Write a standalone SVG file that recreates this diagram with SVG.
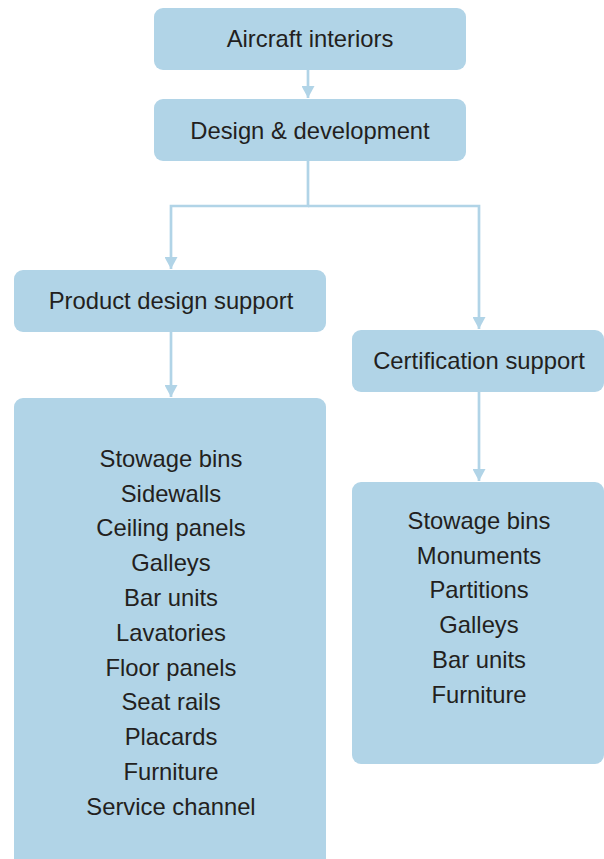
<svg xmlns="http://www.w3.org/2000/svg" width="604" height="859" viewBox="0 0 604 859">
<defs>
<style>
.box{fill:#b1d4e7;}
.t{font-family:"Liberation Sans",Arial,sans-serif;font-size:23.8px;fill:#231f20;text-anchor:middle;}
.c{stroke:#b1d4e7;stroke-width:2.7;fill:none;}
</style>
<marker id="ah" viewBox="0 0 12 13" refX="12" refY="6.5" markerWidth="12" markerHeight="13" markerUnits="userSpaceOnUse" orient="auto">
<path d="M0,0 L12,6.5 L0,13 Z" fill="#b1d4e7"/>
</marker>
</defs>
<rect width="604" height="859" fill="#ffffff"/>
<g id="connectors">
<path class="c" d="M308,70 V98" marker-end="url(#ah)"/>
<path class="c" d="M308,161 V206 H171 V269" marker-end="url(#ah)"/>
<path class="c" d="M308,206 H479 V329" marker-end="url(#ah)"/>
<path class="c" d="M171,332 V397" marker-end="url(#ah)"/>
<path class="c" d="M479,392 V481" marker-end="url(#ah)"/>
</g>
<g id="n1"><rect class="box" x="154" y="8" width="312" height="62" rx="9"/><text class="t" x="310" y="47">Aircraft interiors</text></g>
<g id="n2"><rect class="box" x="154" y="99" width="312" height="62" rx="9"/><text class="t" x="310" y="139">Design &amp; development</text></g>
<g id="n3"><rect class="box" x="14" y="270" width="312" height="62" rx="9"/><text class="t" x="171" y="309">Product design support</text></g>
<g id="n4"><rect class="box" x="352" y="330" width="252" height="62" rx="9"/><text class="t" x="479" y="369">Certification support</text></g>
<g id="n5"><rect class="box" x="14" y="398" width="312" height="475" rx="9"/>
<text class="t" x="171" y="467">Stowage bins</text>
<text class="t" x="171" y="502">Sidewalls</text>
<text class="t" x="171" y="536">Ceiling panels</text>
<text class="t" x="171" y="571">Galleys</text>
<text class="t" x="171" y="606">Bar units</text>
<text class="t" x="171" y="641">Lavatories</text>
<text class="t" x="171" y="676">Floor panels</text>
<text class="t" x="171" y="710">Seat rails</text>
<text class="t" x="171" y="745">Placards</text>
<text class="t" x="171" y="780">Furniture</text>
<text class="t" x="171" y="815">Service channel</text>
</g>
<g id="n6"><rect class="box" x="352" y="482" width="252" height="282" rx="9"/>
<text class="t" x="479" y="529">Stowage bins</text>
<text class="t" x="479" y="564">Monuments</text>
<text class="t" x="479" y="598">Partitions</text>
<text class="t" x="479" y="633">Galleys</text>
<text class="t" x="479" y="668">Bar units</text>
<text class="t" x="479" y="703">Furniture</text>
</g>
</svg>
